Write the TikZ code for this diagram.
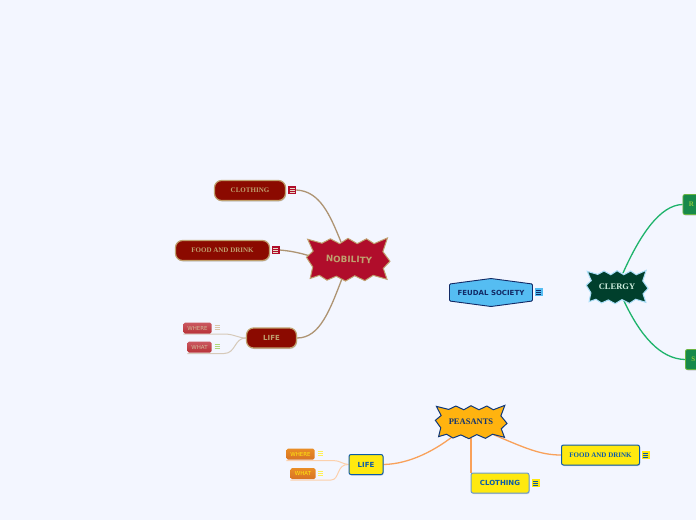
\documentclass[tikz,border=0pt]{standalone}
\usepackage{fontspec}
\setmainfont{Liberation Serif}
\setsansfont{DejaVu Sans}
\usetikzlibrary{backgrounds, shadows}
\definecolor{paper}{HTML}{F3F6FF}
\definecolor{nobred}{HTML}{8B0A00}
\definecolor{nobstar}{HTML}{B00D2B}
\definecolor{nobtan}{HTML}{BFA06E}
\definecolor{nobline}{HTML}{AE9473}
\definecolor{nobtag}{HTML}{C23B45}
\definecolor{clerdark}{HTML}{003F2C}
\definecolor{clerline}{HTML}{1DB36B}
\definecolor{clerbox}{HTML}{17894A}
\definecolor{clertext}{HTML}{8CC63F}
\definecolor{peasyellow}{HTML}{FFE90F}
\definecolor{peasstar}{HTML}{FFB30F}
\definecolor{peasblue}{HTML}{0B5AA8}
\definecolor{peasline}{HTML}{F9A15A}
\definecolor{peastag}{HTML}{E5862A}
\definecolor{feudblue}{HTML}{55BDF2}
\definecolor{feudnavy}{HTML}{122A66}
\newcommand{\burstline}{(-.99,-.1) -- (-.83,-.38) -- (-.96,-.92) -- (-.62,-.74) -- (-.42,-.94) -- (-.2,-.72) -- (0,-.96) -- (.22,-.72) -- (.44,-.94) -- (.62,-.72) -- (.94,-.98) -- (.83,-.36) -- (1,.08) -- (.84,.4) -- (.93,.9) -- (.6,.72) -- (.4,.96) -- (.16,.74) -- (-.06,.98) -- (-.28,.76) -- (-.5,.94) -- (-.68,.72) -- (-.9,.86) -- (-.84,.34) -- cycle}
\begin{document}
\begin{tikzpicture}[x=1pt, y=-1pt,
    softshadow/.style = {drop shadow={shadow xshift=.6pt, shadow yshift=-1pt, opacity=.35}},
    pillbox/.style = {rounded corners=7pt, draw=nobtan, line width=1.2pt, fill=nobred, text=nobtan, font=\bfseries\fontsize{7}{7}\selectfont, minimum height=20pt, inner sep=0pt, softshadow},
    nobtag/.style = {rounded corners=1.5pt, top color=nobtag!85!white, bottom color=nobtag!80!nobred, text=nobtan!70!white, font=\sffamily\fontsize{5.5}{6}\selectfont, minimum width=28pt, minimum height=11pt, inner sep=0pt},
    pestag/.style = {nobtag, top color=peastag!85!peasstar, bottom color=peastag!85!nobred, text=peasyellow},
    yelbox/.style = {rounded corners=2pt, draw=peasblue, line width=1pt, fill=peasyellow, text=peasblue, minimum height=20pt, inner sep=0pt, softshadow},
    grnbox/.style = {rounded corners=2pt, draw=clertext!70!clerbox, line width=.8pt, fill=clerbox, text=clertext, font=\bfseries\fontsize{7}{7}\selectfont, minimum height=20pt, minimum width=40pt, inner sep=0pt, text width=28pt, softshadow},
    notebox/.style = {minimum size=8pt, inner sep=0pt, path picture={
        \draw [#1, line width=.65pt] (path picture bounding box.center) +(-2.5,-1.5) -- +(2.5,-1.5) +(-2.5,.5) -- +(2.5,.5) +(-2.5,2.5) -- +(2.5,2.5);}},
    burst/.style = {line width=1pt, line join=miter},
    burstlabel/.style = {inner sep=0pt, minimum width=62pt, minimum height=30pt},
    mainlink/.style = {line width=1.3pt},
    sublink/.style = {line width=1pt}]
  \useasboundingbox (0,0) rectangle (696,520);
  % central topic
  \draw [draw=feudnavy, fill=feudblue, line width=.9pt, rounded corners=1pt] (449.5,284) -- (491,278.5) -- (532.5,284) -- (532.5,301) -- (491,306.5) -- (449.5,301) -- cycle;
  \node [inner sep=0pt, text=feudnavy, font=\sffamily\bfseries\fontsize{7}{7}\selectfont] (FEUDAL) at (491,292.5) {FEUDAL SOCIETY};
  \node [notebox=feudnavy, fill=feudblue] (FEUDALN) at (538.5,292) {};
  % nobility
  \draw [burst, draw=nobtan, fill=nobstar, shift={(348,259.5)}, xscale=42, yscale=22] \burstline;
  \node [burstlabel, rotate=-2, text=nobtan, font=\sffamily\bfseries\fontsize{8.8}{9}\selectfont] (NOBILITY) at (349,259.5) {NOBILITY};
  \node [pillbox, minimum width=71pt] (NCLOTH) at (250,190.5) {CLOTHING};
  \node [pillbox, minimum width=94pt] (NFOOD) at (222.5,250.5) {FOOD AND DRINK};
  \node [pillbox, minimum width=50pt, font=\sffamily\bfseries\fontsize{7}{7}\selectfont] (NLIFE) at (271.5,338) {LIFE};
  \node [notebox=nobtan!40!white, fill=nobstar] (NCLOTHN) at (292,190) {};
  \node [notebox=nobtan!40!white, fill=nobstar] (NFOODN) at (275.5,250) {};
  \node [nobtag] (NWHERE) at (197.5,328) {WHERE};
  \node [nobtag, minimum width=24pt] (NWHAT) at (199.5,347) {WHAT};
  \node [notebox=nobtan!60!white] (NWHEREN) at (217,327) {};
  \node [notebox=clertext!70!white] (NWHATN) at (217,346) {};
  \coordinate (NWHEREC) at (224,334);
  \coordinate (NWHATC) at (224,353.5);
  % clergy
  \draw [burst, draw=feudblue!50, fill=clerdark, shift={(617,287)}, xscale=31, yscale=17] \burstline;
  \node [burstlabel, text=white!80!clerline, font=\bfseries\fontsize{8.5}{8.5}\selectfont, minimum width=46pt, minimum height=28pt] (CLERGY) at (617,287) {CLERGY};
  \node [grnbox, anchor=west] (CROSS) at (682.5,204.5) {R};
  \node [grnbox, anchor=west] (CSTAY) at (685,359.5) {S};
  % peasants
  \draw [burst, draw=feudnavy!70!peasblue, fill=peasstar, shift={(471,422)}, xscale=36, yscale=17] \burstline;
  \node [burstlabel, text=feudnavy!80!peasblue, font=\bfseries\fontsize{8.5}{8.5}\selectfont, minimum width=46pt, minimum height=30pt] (PEASANTS) at (471,422) {PEASANTS};
  \node [yelbox, minimum width=78pt, font=\bfseries\fontsize{7}{7}\selectfont] (PFOOD) at (600.5,455) {FOOD AND DRINK};
  \node [yelbox, draw=peasblue!60, minimum width=58pt, font=\sffamily\bfseries\fontsize{7}{7}\selectfont] (PCLOTH) at (500,483) {CLOTHING};
  \node [yelbox, minimum width=34pt, font=\sffamily\bfseries\fontsize{7}{7}\selectfont] (PLIFE) at (366,464.5) {LIFE};
  \node [notebox=peasblue, fill=peasyellow] (PFOODN) at (645.5,454.5) {};
  \node [notebox=peasblue, fill=peasyellow] (PCLOTHN) at (535.5,482.5) {};
  \node [pestag] (PWHERE) at (300.5,454) {WHERE};
  \node [pestag, minimum width=25pt] (PWHAT) at (303,473.5) {WHAT};
  \node [notebox=peasyellow!70!white] (PWHEREN) at (320.5,453) {};
  \node [notebox=peasyellow!70!white] (PWHATN) at (320.5,473) {};
  \coordinate (PWHEREC) at (333,460.5);
  \coordinate (PWHATC) at (331,480);
  \begin{scope}[on background layer]
    \fill[paper] (0,0) rectangle (696,520);
    \draw [nobline, mainlink] (NCLOTHN.east) .. controls (320,191) and (330,215) .. (341,242);
    \draw [nobline, mainlink] (NFOODN.east) .. controls (290,251) and (298,252) .. (NOBILITY.west);
    \draw [nobline, mainlink] (NLIFE.east) .. controls (320,338) and (330,310) .. (343,276);
    \draw [nobline!50, sublink] (NLIFE.west) .. controls (238,338) and (234,334) .. (NWHEREC) -- (NWHERE.south west |- NWHEREC);
    \draw [nobline!50, sublink] (NLIFE.west) .. controls (234,338) and (236,353.5) .. (NWHATC) -- (NWHAT.south west |- NWHATC);
    \draw [clerline, mainlink] (623,273) .. controls (640,235) and (660,205) .. (CROSS.west);
    \draw [clerline, mainlink] (624,301) .. controls (640,335) and (660,359) .. (CSTAY.west);
    \draw [peasline, line width=1.6pt] (PEASANTS.south) -- (PCLOTH.north -| PEASANTS.south);
    \draw [peasline, mainlink] (492,434) .. controls (525,448) and (540,455) .. (PFOOD.west);
    \draw [peasline, mainlink] (PLIFE.east) .. controls (410,464) and (435,450) .. (452,437);
    \draw [peasline!50, sublink] (PLIFE.west) .. controls (342,464) and (340,460.5) .. (PWHEREC) -- (PWHERE.south west |- PWHEREC);
    \draw [peasline!50, sublink] (PLIFE.west) .. controls (336,464) and (340,480) .. (PWHATC) -- (PWHAT.south west |- PWHATC);
  \end{scope}
\end{tikzpicture}
\end{document}
